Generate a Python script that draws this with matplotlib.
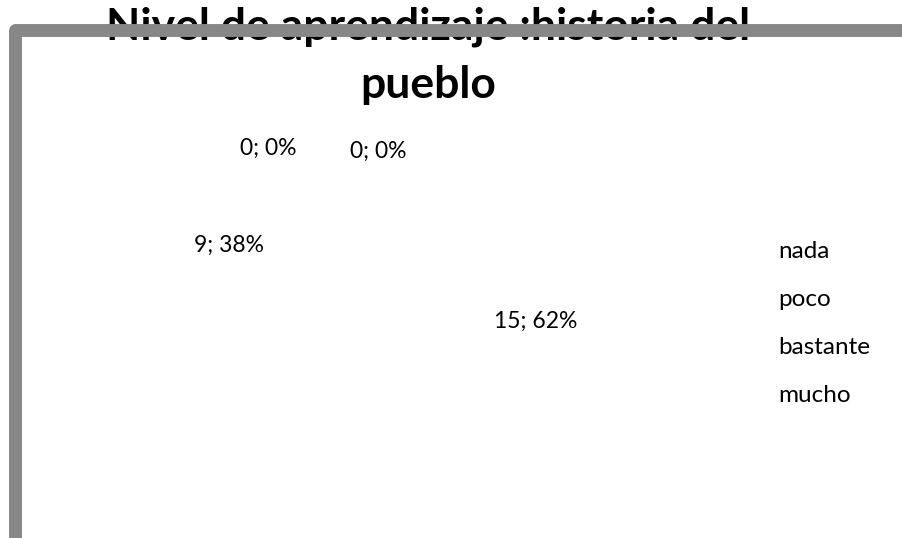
import matplotlib
matplotlib.use("Agg")
import matplotlib.pyplot as plt
from matplotlib.lines import Line2D

categories = ["nada", "poco", "bastante", "mucho"]
values = [0, 0, 9, 15]
title = "Nivel de aprendizaje :historia del\npueblo"

W, H = 902, 538
fig = plt.figure(figsize=(W / 100, H / 100), dpi=100)
fig.patch.set_facecolor("white")

def px(x, y):
    return x / W, 1 - y / H

# invisible (white) pie
ax = fig.add_axes([0.18, 0.05, 0.5, 0.75])
ax.pie(values, colors=["white"] * 4, startangle=90, counterclock=True,
       wedgeprops=dict(edgecolor="white", linewidth=0))
ax.set_aspect("equal")
ax.axis("off")

# data labels
total = sum(values)
label_pos = [(268, 148), (378, 151), (229, 245), (536, 321)]
for v, (x, y) in zip(values, label_pos):
    pct = round(100 * v / total) if total else 0
    fig.text(*px(x, y), f"{v}; {pct}%", ha="center", va="center",
             fontsize=16.5, family="Lato", color="#000000")

# legend texts (markers invisible)
leg_y = [251, 299, 347, 396]
for c, y in zip(categories, leg_y):
    fig.text(*px(778, y), c, ha="left", va="center", fontsize=17.5,
             family="Lato", color="#000000")

# title
fig.text(*px(428, 56), title, ha="center", va="center", fontsize=32,
         family="Lato", weight="bold", color="#000000", linespacing=1.55,
         zorder=1)

# gray frame (top and left), drawn over the title
frame = Line2D([15 / W, 15 / W, 1.02], [-0.05, 1 - 29.5 / H, 1 - 29.5 / H],
               transform=fig.transFigure, color="#878787", linewidth=9.3,
               solid_joinstyle="round", solid_capstyle="butt", zorder=5)
fig.add_artist(frame)

fig.savefig("out.png", dpi=100, facecolor="white")
